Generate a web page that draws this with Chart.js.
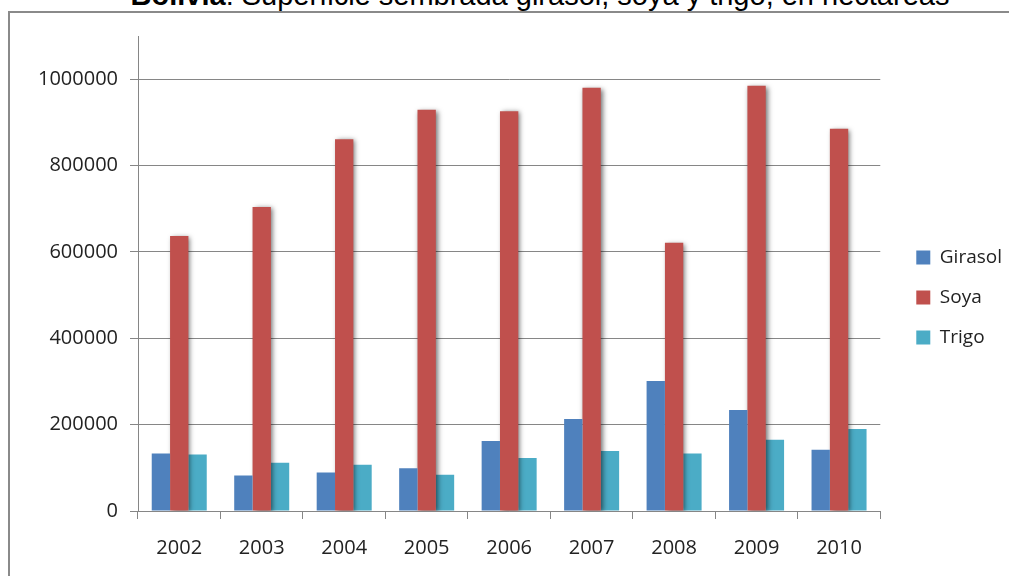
<!DOCTYPE html>
<html>
<head>
<meta charset="utf-8">
<script src="https://cdn.jsdelivr.net/npm/chart.js@4/dist/chart.umd.min.js"></script>
<style>
  html, body { margin: 0; padding: 0; background: #fff; overflow: hidden; }
  #wrap { position: relative; width: 1009px; height: 576px; }
  #frame { position: absolute; left: 8px; top: 11px; width: 1100px; height: 700px;
           border-left: 2px solid #8a8a8a; border-top: 2px solid #8a8a8a; }
  #title { position: absolute; left: 0; width: 1080px; top: -19px; line-height: 29px;
           text-align: center; font-family: "Liberation Sans", Arial, sans-serif;
           font-size: 29px; color: #000; white-space: nowrap; }
  #chart { position: absolute; left: 0; top: 0; }
</style>
</head>
<body>
<div id="wrap">
  <div id="frame"></div>
  <div id="title"><b>Bolivia</b>: Superficie sembrada girasol, soya y trigo, en hectáreas</div>
  <canvas id="chart" width="1009" height="576"></canvas>
</div>
<script>
const years = ['2002','2003','2004','2005','2006','2007','2008','2009','2010'];
const girasol = [133000, 82000, 89000, 99000, 162000, 213000, 301000, 234000, 142000];
const soya = [637000, 704000, 861000, 929000, 926000, 980000, 621000, 985000, 885000];
const trigo = [131000, 112000, 107000, 84000, 123000, 139000, 133000, 165000, 190000];
const yTicks = [0, 200000, 400000, 600000, 800000, 1000000];

(function(){
  const axisGray = '#868686';
  const tickFont = { family: '"Open Sans", sans-serif', size: 20 };
  const legendShift = 15;

  // soya bars carry a soft drop shadow in the original
  const shadowPlugin = {
    id: 'soyaShadow',
    beforeDatasetDraw(chart, args){
      if(args.index !== 1) return;
      const ctx = chart.ctx;
      ctx.save();
      ctx.shadowColor = 'rgba(0,0,0,0.55)';
      ctx.shadowBlur = 5;
      ctx.shadowOffsetX = 2;
      ctx.shadowOffsetY = 1;
    },
    afterDatasetDraw(chart, args){
      if(args.index !== 1) return;
      chart.ctx.restore();
    }
  };

  // legend sits a bit further right of the plot than chart.js puts it
  const legendNudge = {
    id: 'legendNudge',
    afterLayout(chart){
      const lg = chart.legend;
      if(!lg) return;
      lg.left += legendShift;
      lg.right += legendShift;
    }
  };

  new Chart(document.getElementById('chart'), {
    type: 'bar',
    data: {
      labels: years,
      datasets: [
        { label: 'Girasol', data: girasol, backgroundColor: '#4F81BD' },
        { label: 'Soya', data: soya, backgroundColor: '#C0504D' },
        { label: 'Trigo', data: trigo, backgroundColor: '#4BACC6' }
      ]
    },
    options: {
      responsive: false,
      animation: false,
      devicePixelRatio: 1,
      layout: { padding: { top: 36, bottom: 17, left: 0, right: 12 } },
      datasets: { bar: { categoryPercentage: 0.667, barPercentage: 1, borderWidth: 0 } },
      plugins: {
        title: { display: false },
        tooltip: { enabled: false },
        legend: {
          position: 'right',
          labels: {
            boxWidth: 14, boxHeight: 14, padding: 21,
            color: '#222',
            font: { family: '"Open Sans", sans-serif', size: 19 }
          }
        }
      },
      scales: {
        x: {
          grid: { drawOnChartArea: false, color: axisGray, tickLength: 8, offset: true },
          border: { color: axisGray, width: 1 },
          ticks: { color: '#222', font: tickFont, padding: 17, maxRotation: 0 },
          afterFit(scale){ scale.height = 48; }
        },
        y: {
          min: 0,
          max: 1100000,
          grid: { color: axisGray, tickLength: 8 },
          border: { color: axisGray, width: 1 },
          ticks: { color: '#222', font: tickFont, padding: 12, stepSize: 200000,
                   callback: v => String(v) },
          afterBuildTicks(scale){ scale.ticks = yTicks.map(v => ({ value: v })); },
          afterFit(scale){ scale.width = 138; }
        }
      }
    },
    plugins: [shadowPlugin, legendNudge]
  });
})();
</script>
</body>
</html>
